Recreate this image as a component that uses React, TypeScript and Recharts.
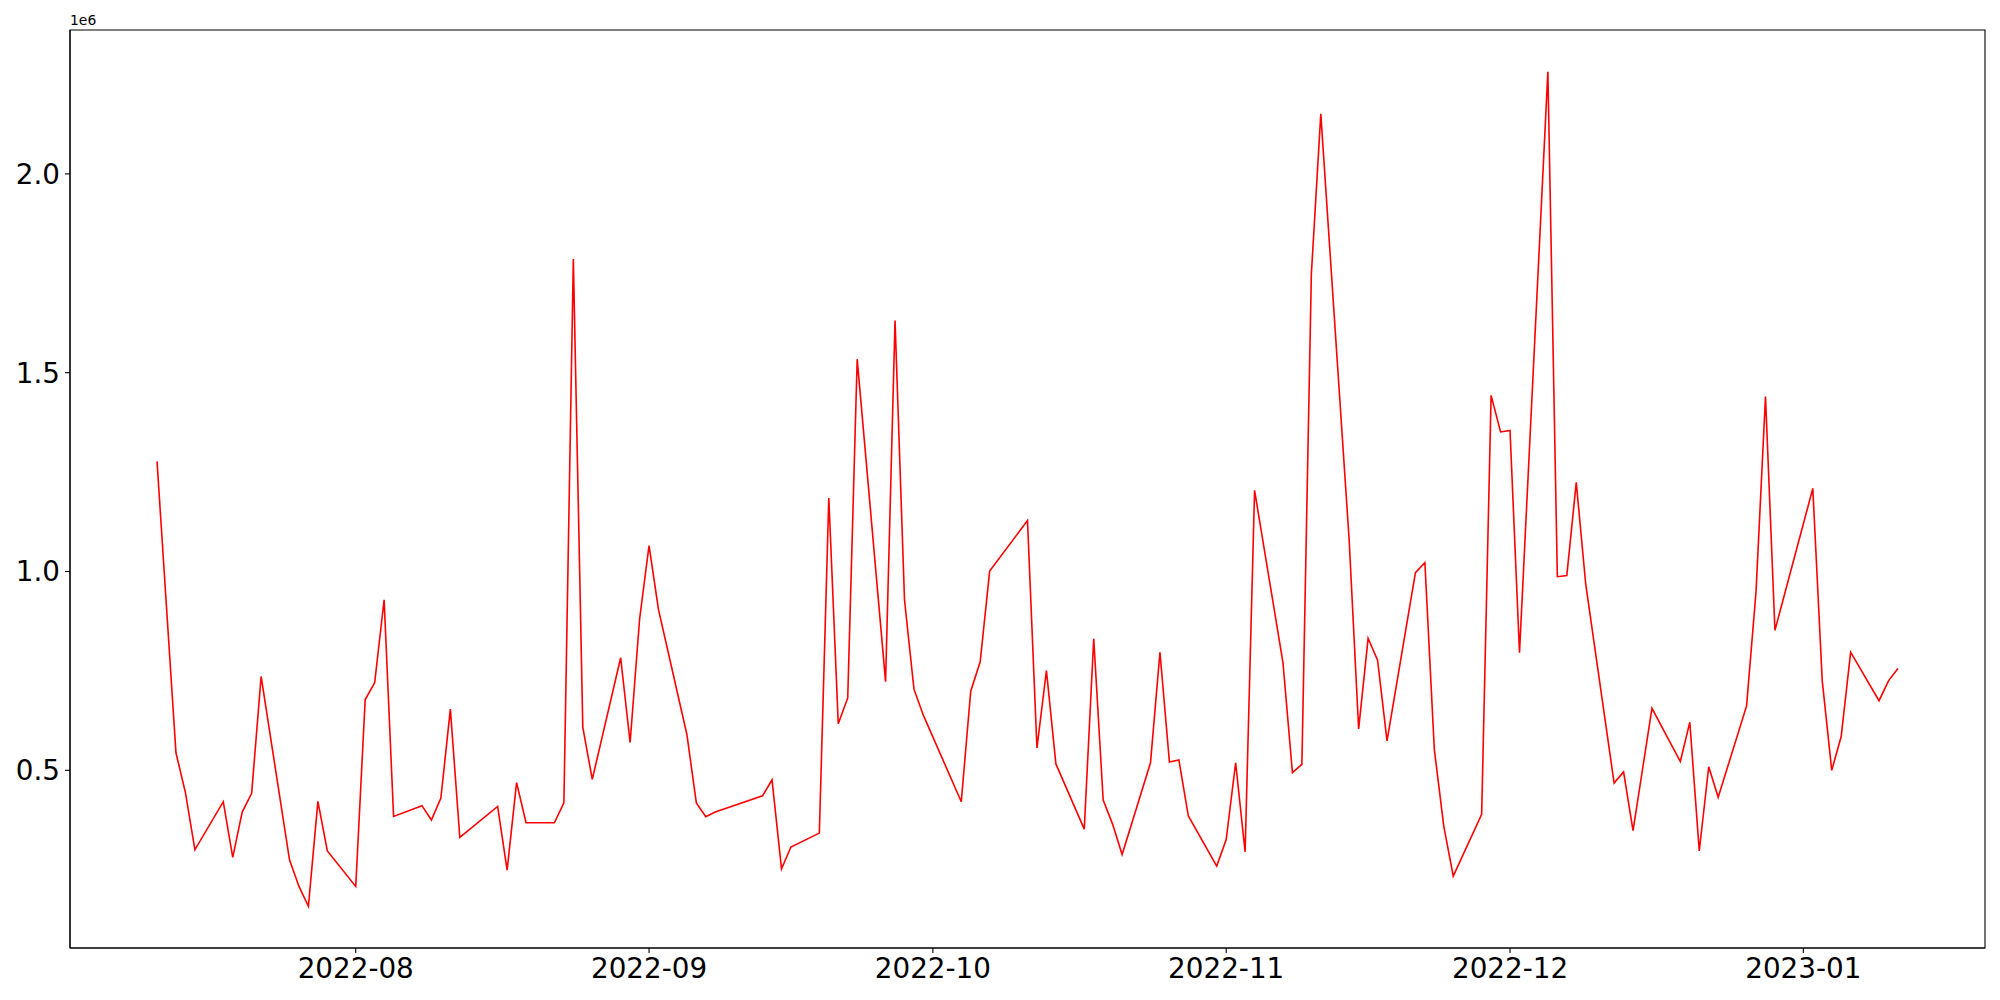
import React from "react";
import {
  LineChart,
  Line,
  XAxis,
  YAxis,
  ReferenceArea
} from "recharts";

/* ---------------- DATA ---------------- */

const dates = [
  "2022-07-11", "2022-07-12", "2022-07-13", "2022-07-14", "2022-07-15",
  "2022-07-18", "2022-07-19", "2022-07-20", "2022-07-21", "2022-07-22",
  "2022-07-25", "2022-07-26", "2022-07-27", "2022-07-28", "2022-07-29",
  "2022-08-01", "2022-08-02", "2022-08-03", "2022-08-04", "2022-08-05",
  "2022-08-08", "2022-08-09", "2022-08-10", "2022-08-11", "2022-08-12",
  "2022-08-16", "2022-08-17", "2022-08-18", "2022-08-19",
  "2022-08-22", "2022-08-23", "2022-08-24", "2022-08-25", "2022-08-26",
  "2022-08-29", "2022-08-30", "2022-08-31", "2022-09-01", "2022-09-02",
  "2022-09-05", "2022-09-06", "2022-09-07", "2022-09-08",
  "2022-09-13", "2022-09-14", "2022-09-15", "2022-09-16",
  "2022-09-19", "2022-09-20", "2022-09-21", "2022-09-22", "2022-09-23",
  "2022-09-26", "2022-09-27", "2022-09-28", "2022-09-29", "2022-09-30",
  "2022-10-04", "2022-10-05", "2022-10-06", "2022-10-07",
  "2022-10-11", "2022-10-12", "2022-10-13", "2022-10-14",
  "2022-10-17", "2022-10-18", "2022-10-19", "2022-10-20", "2022-10-21",
  "2022-10-24", "2022-10-25", "2022-10-26", "2022-10-27", "2022-10-28",
  "2022-10-31", "2022-11-01", "2022-11-02", "2022-11-03", "2022-11-04",
  "2022-11-07", "2022-11-08", "2022-11-09", "2022-11-10", "2022-11-11",
  "2022-11-14", "2022-11-15", "2022-11-16", "2022-11-17", "2022-11-18",
  "2022-11-21", "2022-11-22", "2022-11-23", "2022-11-24", "2022-11-25",
  "2022-11-28", "2022-11-29", "2022-11-30", "2022-12-01", "2022-12-02",
  "2022-12-05", "2022-12-06", "2022-12-07", "2022-12-08", "2022-12-09",
  "2022-12-12", "2022-12-13", "2022-12-14", "2022-12-15", "2022-12-16",
  "2022-12-19", "2022-12-20", "2022-12-21", "2022-12-22", "2022-12-23",
  "2022-12-26", "2022-12-27", "2022-12-28", "2022-12-29",
  "2023-01-02", "2023-01-03", "2023-01-04", "2023-01-05", "2023-01-06",
  "2023-01-09", "2023-01-10", "2023-01-11"
];

const values = [
  1277000, 910000, 544000, 444000, 300000,
  421000, 281000, 395000, 442000, 736000,
  275000, 208000, 158000, 422000, 297000,
  208000, 678000, 720000, 929000, 384000,
  411000, 375000, 430000, 654000, 331000,
  409000, 249000, 469000, 368000,
  368000, 418000, 1786000, 608000, 477000,
  783000, 570000, 880000, 1065000, 904000,
  590000, 418000, 383000, 395000,
  436000, 476000, 252000, 307000,
  342000, 1185000, 617000, 682000, 1534000,
  723000, 1631000, 929000, 704000, 638000,
  421000, 699000, 773000, 1001000,
  1128000, 556000, 751000, 516000,
  352000, 831000, 425000, 364000, 288000,
  519000, 797000, 521000, 526000, 385000,
  259000, 326000, 519000, 295000, 1204000,
  771000, 494000, 515000, 1747000, 2151000,
  1078000, 604000, 832000, 777000, 574000,
  997000, 1022000, 552000, 359000, 234000,
  389000, 1443000, 1351000, 1355000, 796000,
  2257000, 987000, 990000, 1224000, 968000,
  468000, 496000, 348000, 502000, 656000,
  522000, 621000, 297000, 509000, 432000,
  662000, 949000, 1440000, 852000,
  1209000, 725000, 500000, 585000, 797000,
  675000, 725000, 756000
];

const monthTicks = ["2022-08-01", "2022-09-01", "2022-10-01", "2022-11-01", "2022-12-01", "2023-01-01"];
const yTicks = [500000, 1000000, 1500000, 2000000];

/* ---------------- HELPERS ---------------- */

const toTime = (s: string) => {
  const [y, m, d] = s.split("-").map(Number);
  return Date.UTC(y, m - 1, d);
};

const data = dates.map((d, i) => ({ t: toTime(d), v: values[i] }));

// matplotlib-like 5% margins
const pad = (lo: number, hi: number): [number, number] => {
  const r = hi - lo;
  return [lo - r * 0.05, hi + r * 0.05];
};

const xDomain = pad(data[0].t, data[data.length - 1].t);
const yDomain = pad(Math.min(...values), Math.max(...values));

const fmtMonth = (t: number) => {
  const d = new Date(t);
  return `${d.getUTCFullYear()}-${String(d.getUTCMonth() + 1).padStart(2, "0")}`;
};

const FONT = "'DejaVu Sans', sans-serif";
const tickStyle = { fontSize: 27.8, fill: "#000", fontFamily: FONT };

/* ---------------- COMPONENT ---------------- */

export default function App() {
  return (
    <div style={{ position: "absolute", left: 0, top: 0, width: 2000, height: 1000, background: "#fff" }}>
      <div
        style={{
          position: "absolute",
          left: 70,
          top: 14,
          fontSize: 13.9,
          lineHeight: "13.9px",
          fontFamily: FONT,
          color: "#000"
        }}
      >
        1e6
      </div>
      <LineChart
        width={2000}
        height={1000}
        data={data}
        margin={{ top: 30, right: 15, bottom: 0, left: 0 }}
      >
        <XAxis
          dataKey="t"
          type="number"
          domain={xDomain}
          allowDataOverflow
          ticks={monthTicks.map(toTime)}
          tickFormatter={fmtMonth}
          height={52}
          tickSize={5}
          tickMargin={5}
          tick={tickStyle}
          stroke="#000"
          axisLine={{ stroke: "#000", strokeWidth: 1.1 }}
          tickLine={{ stroke: "#000", strokeWidth: 1.1 }}
        />
        <YAxis
          type="number"
          domain={yDomain}
          allowDataOverflow
          ticks={yTicks}
          tickFormatter={(v: number) => (v / 1e6).toFixed(1)}
          width={70}
          tickSize={5}
          tickMargin={5}
          tick={tickStyle}
          stroke="#000"
          axisLine={{ stroke: "#000", strokeWidth: 1.1 }}
          tickLine={{ stroke: "#000", strokeWidth: 1.1 }}
        />
        <ReferenceArea
          x1={xDomain[0]}
          x2={xDomain[1]}
          y1={yDomain[0]}
          y2={yDomain[1]}
          fill="none"
          stroke="#000"
          strokeWidth={1.1}
          ifOverflow="extendDomain"
        />
        <Line
          type="linear"
          dataKey="v"
          stroke="#ff0000"
          strokeWidth={1.6}
          dot={false}
          activeDot={false}
          isAnimationActive={false}
        />
      </LineChart>
    </div>
  );
}
